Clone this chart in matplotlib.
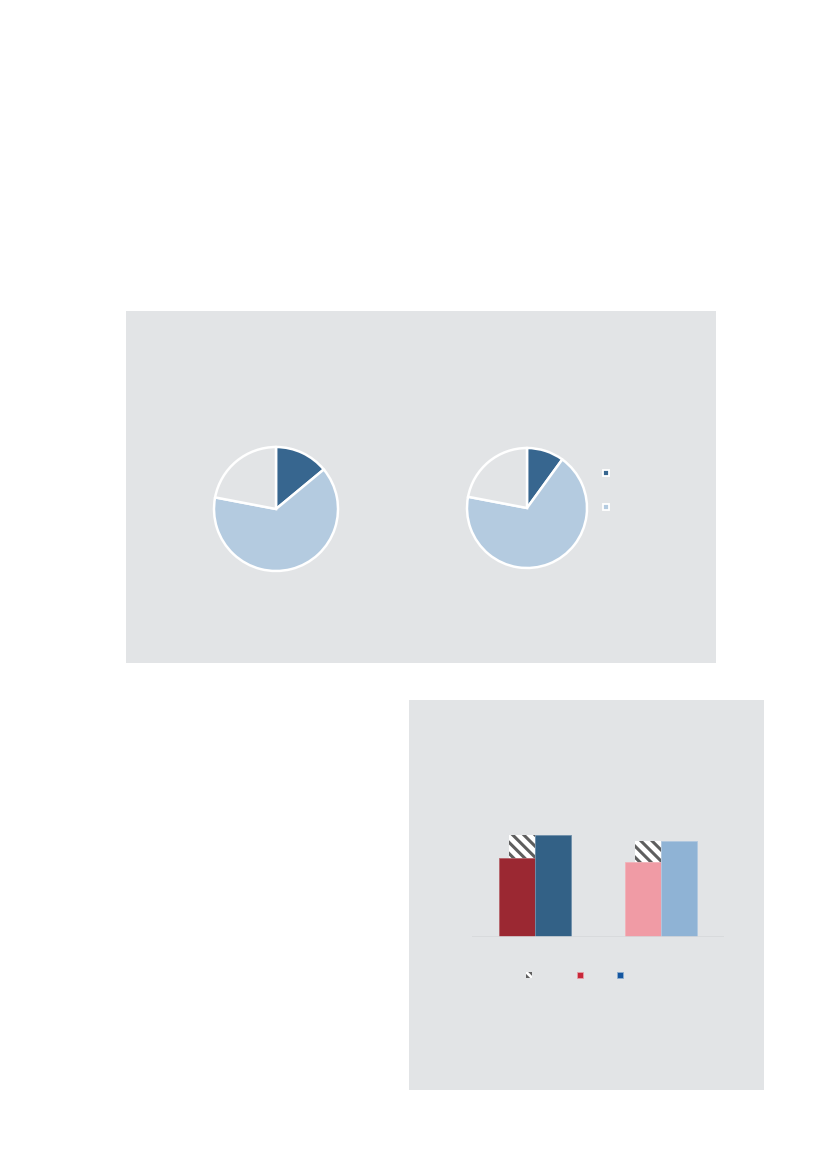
# Two pie charts and a grouped bar chart on grey panels (all text stripped)

import matplotlib
matplotlib.use('Agg')
import matplotlib.pyplot as plt
from matplotlib.patches import Rectangle

# pie shares, clockwise from 12 o'clock
pie_left = [14, 64, 22]
pie_right = [10, 68, 22]
pie_colors = ['#37668f', '#b4cbe0', '#e2e4e6']

# bar groups
groups = ['A', 'B']
bar_first = [79, 75]          # red / pink
bar_second = [102, 96]        # dark blue / light blue
bar_gap = [102, 96]           # hatched part behind the first bar
first_colors = ['#9b2832', '#f09ba5']
second_colors = ['#336186', '#8fb3d5']

panel = '#e2e4e6'
W, H = 827, 1169

plt.rcParams['hatch.color'] = '#5e5e5e'
plt.rcParams['hatch.linewidth'] = 2.2

fig = plt.figure(figsize=(W / 100, H / 100), dpi=100)
fig.patch.set_facecolor('white')

def px_axes(x0, y0, x1, y1):
    # axes placed with pixel box (top-left origin)
    return fig.add_axes([x0 / W, 1 - y1 / H, (x1 - x0) / W, (y1 - y0) / H])

# background layer in pixel units
bg = fig.add_axes([0, 0, 1, 1])
bg.set_xlim(0, W)
bg.set_ylim(H, 0)
bg.axis('off')
bg.add_patch(Rectangle((126, 311), 590, 352, facecolor=panel, edgecolor='none'))
bg.add_patch(Rectangle((409, 700), 355, 390, facecolor=panel, edgecolor='none'))

# pies
for vals, (cx, cy, r) in [(pie_left, (276, 509, 62)), (pie_right, (527, 508, 60))]:
    ax = px_axes(cx - r - 4, cy - r - 4, cx + r + 4, cy + r + 4)
    ax.pie(vals, colors=pie_colors, startangle=90, counterclock=False, radius=1,
           wedgeprops=dict(edgecolor='white', linewidth=1.8))
    ax.set_xlim(-1 - 4 / r, 1 + 4 / r)
    ax.set_ylim(-1 - 4 / r, 1 + 4 / r)
    ax.set_aspect('equal')
    ax.axis('off')

# pie legend keys
for y, c in [(472.5, pie_colors[0]), (506.5, pie_colors[1])]:
    bg.plot(605.5, y, marker='s', ms=3.8, mfc=c, mec='white', mew=1.3, zorder=5)

# bar chart
bx = px_axes(472, 807, 724, 937)
x = range(len(groups))
w = 36 / 125.7
gw = 25.5 / 125.7
bx.bar([i - gw for i in x], bar_gap, width=gw, align='edge', facecolor='white',
       edgecolor='#5e5e5e', linewidth=0, hatch='\\\\\\', zorder=1)
bx.bar([i - w for i in x], bar_first, width=w, align='edge', color=first_colors,
       edgecolor=['#b5636a', '#f3b3ba'], linewidth=0.6, zorder=2)
bx.bar(list(x), bar_second, width=w, align='edge', color=second_colors,
       edgecolor=['#6f8fab', '#b0c8e0'], linewidth=0.6, zorder=2)
bx.axhline(0, color='#d6d8db', lw=1.2, zorder=3)
bx.set_xlim(-0.5, 1.5)
bx.set_ylim(0, 130)
bx.axis('off')

# bar legend keys
bg.add_patch(Rectangle((526, 972), 6, 6, facecolor='white', edgecolor='#5e5e5e',
                       linewidth=0, hatch='\\\\\\\\', zorder=5))
bg.add_patch(Rectangle((577, 972), 6, 6, facecolor='#c8283a', edgecolor='#e6a0a8',
                       linewidth=0.6, zorder=5))
bg.add_patch(Rectangle((617, 972), 6, 6, facecolor='#1556a0', edgecolor='#8eaed0',
                       linewidth=0.6, zorder=5))

fig.savefig('out.png', dpi=100, facecolor='white')
